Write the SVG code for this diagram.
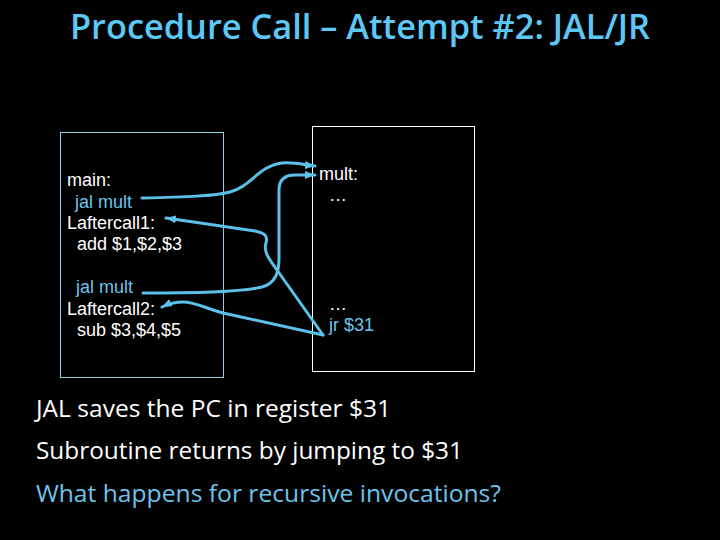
<svg xmlns="http://www.w3.org/2000/svg" width="720" height="540" viewBox="0 0 720 540">
<defs>
<style>
.code{font-family:"Liberation Sans",Arial,sans-serif;font-size:18px;fill:#ffffff}
.blue{fill:#6cc4ec}
.bul{font-family:"Open Sans","Noto Sans",sans-serif;font-size:24px;fill:#ffffff}
.conn{fill:none;stroke:#5bc0ea;stroke-width:3;stroke-linecap:round;stroke-linejoin:round}
</style>
<marker id="ah" markerUnits="userSpaceOnUse" markerWidth="10" markerHeight="8" refX="10" refY="4" orient="auto">
<path d="M0,0 L10,4 L0,8 z" fill="#5bc0ea"/>
</marker>
</defs>
<rect x="0" y="0" width="720" height="540" fill="#000000"/>
<text x="360" y="39" text-anchor="middle" font-family="'Open Sans','Noto Sans',sans-serif" font-size="34" font-weight="600" fill="#5bc8f5" textLength="580" lengthAdjust="spacingAndGlyphs">Procedure Call – Attempt #2: JAL/JR</text>
<g id="main-box">
<rect x="60.5" y="132.5" width="163" height="245" fill="none" stroke="#8dcfe8" stroke-width="1"/>
<text class="code" x="67" y="186">main:</text>
<text class="code blue" x="75" y="208">jal mult</text>
<text class="code" x="67" y="229">Laftercall1:</text>
<text class="code" x="77" y="250">add $1,$2,$3</text>
<text class="code blue" x="76" y="293">jal mult</text>
<text class="code" x="67" y="315">Laftercall2:</text>
<text class="code" x="77" y="336">sub $3,$4,$5</text>
</g>
<g id="mult-box">
<rect x="312.5" y="126.5" width="162" height="245" fill="none" stroke="#ffffff" stroke-width="1"/>
<text class="code" x="319" y="180">mult:</text>
<text class="code" x="329" y="201">…</text>
<text class="code" x="329" y="310">…</text>
<text class="code blue" x="329" y="331">jr $31</text>
</g>
<g id="connectors">
<path class="conn" marker-end="url(#ah)" d="M142,198 C185,197 215,196 230,192 C252,186 258,166 282,163 C295,162 305,165 315,166"/>
<path class="conn" marker-end="url(#ah)" d="M143,293 C190,293 240,292 262,287 C276,283 279,272 279,258 L279,190 C279,180 284,175 295,175 L315,175"/>
<path class="conn" marker-end="url(#ah)" d="M323,335 L277,270 C270,260 263,252 266,243 C268,236 265,233 255,231 L166,218"/>
<path class="conn" marker-end="url(#ah)" d="M323,335 L223,313 C205,308 195,302 183,302 C175,302 168,304 162,307"/>
</g>
<g id="notes">
<text class="bul" x="36" y="417" textLength="355" lengthAdjust="spacingAndGlyphs">JAL saves the PC in register $31</text>
<text class="bul" x="36" y="459" textLength="427" lengthAdjust="spacingAndGlyphs">Subroutine returns by jumping to $31</text>
<text class="bul" x="36" y="502" style="fill:#6cc4ec" textLength="465" lengthAdjust="spacingAndGlyphs">What happens for recursive invocations?</text>
</g>
</svg>
